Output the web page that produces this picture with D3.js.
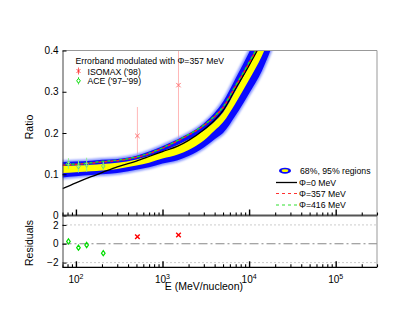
<!DOCTYPE html>
<html>
<head>
<meta charset="utf-8">
<script src="https://cdn.jsdelivr.net/npm/d3@7"></script>
<style>
  body { margin: 0; background: #fff; }
  svg { display: block; font-family: "Liberation Sans", Arial, sans-serif; }
</style>
</head>
<body>
<svg id="chart" width="415" height="311"></svg>
<script>
// model curves, sampled in E (MeV/nucleon)
var energy = [70, 100, 150, 200, 300, 500, 700, 1000, 1500, 2000, 3000, 4000, 5000, 7000, 10000, 14000, 20000];
var phi0   = [0.065, 0.079, 0.094, 0.104, 0.118, 0.132, 0.143, 0.155, 0.168, 0.182, 0.208, 0.231, 0.254, 0.308, 0.364, 0.423, 0.512];
var phi357 = [0.122, 0.124, 0.127, 0.130, 0.133, 0.141, 0.150, 0.163, 0.181, 0.195, 0.218, 0.240, 0.262, 0.314, 0.370, 0.430, 0.520];
var phi416 = [0.123, 0.125, 0.128, 0.131, 0.134, 0.142, 0.151, 0.164, 0.182, 0.196, 0.219, 0.241, 0.263, 0.315, 0.371, 0.431, 0.521];
var hi95   = [0.130, 0.131, 0.133, 0.135, 0.137, 0.145, 0.155, 0.168, 0.185, 0.198, 0.223, 0.249, 0.276, 0.333, 0.396, 0.460, 0.550];
var hi68   = [0.120, 0.121, 0.123, 0.125, 0.128, 0.136, 0.144, 0.156, 0.171, 0.184, 0.206, 0.228, 0.250, 0.303, 0.363, 0.424, 0.512];
var lo68   = [0.103, 0.105, 0.107, 0.109, 0.113, 0.121, 0.128, 0.138, 0.148, 0.159, 0.182, 0.206, 0.226, 0.273, 0.329, 0.386, 0.468];
var lo95   = [0.092, 0.095, 0.098, 0.100, 0.103, 0.111, 0.117, 0.126, 0.134, 0.144, 0.165, 0.185, 0.200, 0.243, 0.296, 0.350, 0.430];

// data
var isomaxE   = [513, 1530];
var isomaxVal = [0.193, 0.316];
var isomaxErr = [0.07, 0.13];
var isomaxRes = [0.75, 0.93];
var aceE   = [82, 107, 133, 207];
var aceVal = [0.126, 0.119, 0.123, 0.120];
var aceErr = [0.013, 0.015, 0.017, 0.010];
var aceRes = [0.25, -0.42, -0.13, -1.0];

var yTicks = [0, 0.1, 0.2, 0.3, 0.4];
var resTicks = [-2, 0, 2];
var decades = [100, 1000, 10000, 100000];
var decadeLabels = ["2", "3", "4", "5"];

(function() {
  var pL = 62.5, pR = 377, pT = 50.5, pM = 215.5, pB = 267.3;

  var svg = d3.select("#chart");
  var x = d3.scaleLog().domain([70, 3e5]).range([pL, pR]);
  var y = d3.scaleLinear().domain([0, 0.4]).range([pM, pT]);
  var yr = d3.scaleLinear().domain([-2.5, 3]).range([pB, pM]);

  var minors = [];
  [10, 100, 1000, 10000, 100000].forEach(function(d) {
    for (var k = 2; k <= 9; k++) {
      var v = d * k;
      if (v >= 70 && v <= 3e5) minors.push(v);
    }
  });

  var defs = svg.append("defs");
  defs.append("clipPath").attr("id", "clipMain")
    .append("rect").attr("x", pL).attr("y", pT).attr("width", pR - pL).attr("height", pM - pT);
  defs.append("filter").attr("id", "halo").attr("x", "-10%").attr("y", "-10%").attr("width", "120%").attr("height", "120%")
    .append("feGaussianBlur").attr("stdDeviation", 1.2);

  var main = svg.append("g").attr("clip-path", "url(#clipMain)");

  // ISOMAX error bars sit under the band
  main.selectAll(".isoErr").data(isomaxE).enter().append("line")
    .attr("x1", function(d) { return x(d); }).attr("x2", function(d) { return x(d); })
    .attr("y1", function(d, i) { return y(isomaxVal[i] + isomaxErr[i]); })
    .attr("y2", function(d, i) { return y(isomaxVal[i] - isomaxErr[i]); })
    .attr("stroke", "#ffb8b8").attr("stroke-width", 1);

  var area = function(hi, lo) {
    return d3.area()
      .x(function(d, i) { return x(energy[i]); })
      .y0(function(d, i) { return y(lo[i]); })
      .y1(function(d, i) { return y(hi[i]); })
      .curve(d3.curveMonotoneX)(energy);
  };
  main.append("path").attr("d", area(hi95, lo95))
    .attr("fill", "#8896ff").attr("stroke", "#8896ff").attr("stroke-width", 3.5)
    .attr("filter", "url(#halo)");
  main.append("path").attr("d", area(hi95, lo95)).attr("fill", "#0a0aff");
  main.append("path").attr("d", area(hi68, lo68)).attr("fill", "#ffff00");

  var line = function(vals) {
    return d3.line()
      .x(function(d, i) { return x(energy[i]); })
      .y(function(d, i) { return y(vals[i]); })
      .curve(d3.curveMonotoneX)(energy);
  };
  main.append("path").attr("d", line(phi0)).attr("fill", "none").attr("stroke", "#000").attr("stroke-width", 1.3);
  main.append("path").attr("d", line(phi357)).attr("fill", "none").attr("stroke", "#ff2020")
    .attr("stroke-width", 1.5).attr("stroke-dasharray", "3,3");
  main.append("path").attr("d", line(phi416)).attr("fill", "none").attr("stroke", "#20e020")
    .attr("stroke-width", 1.5).attr("stroke-dasharray", "3,3").attr("stroke-dashoffset", 3);

  // ACE on top
  main.selectAll(".aceErr").data(aceE).enter().append("line")
    .attr("x1", function(d) { return x(d); }).attr("x2", function(d) { return x(d); })
    .attr("y1", function(d, i) { return y(aceVal[i] + aceErr[i]); })
    .attr("y2", function(d, i) { return y(aceVal[i] - aceErr[i]); })
    .attr("stroke", "#90ee90").attr("stroke-width", 1);
  var diamond = function(cx, cy, w, h) {
    return "M" + cx + "," + (cy - h) + "L" + (cx + w) + "," + cy + "L" + cx + "," + (cy + h) + "L" + (cx - w) + "," + cy + "Z";
  };
  var cross = function(cx, cy, s) {
    return "M" + (cx - s) + "," + (cy - s) + "L" + (cx + s) + "," + (cy + s) +
           "M" + (cx - s) + "," + (cy + s) + "L" + (cx + s) + "," + (cy - s);
  };
  main.selectAll(".aceMk").data(aceE).enter().append("path")
    .attr("d", function(d, i) { return diamond(x(d), y(aceVal[i]), 1.8, 2.6); })
    .attr("fill", "none").attr("stroke", "#70e070").attr("stroke-width", 1);
  main.selectAll(".isoMk").data(isomaxE).enter().append("path")
    .attr("d", function(d, i) { return cross(x(d), y(isomaxVal[i]), 2.2); })
    .attr("stroke", "#ff7070").attr("stroke-width", 1);

  // residual panel
  svg.append("g").selectAll("line").data([2, -2]).enter().append("line")
    .attr("x1", pL).attr("x2", pR).attr("y1", function(d) { return yr(d); }).attr("y2", function(d) { return yr(d); })
    .attr("stroke", "#999").attr("stroke-width", 1).attr("stroke-dasharray", "1,3");
  svg.append("line").attr("x1", pL).attr("x2", pR).attr("y1", yr(0)).attr("y2", yr(0))
    .attr("stroke", "#888").attr("stroke-width", 1.2).attr("stroke-dasharray", "9,3,2,3");

  svg.selectAll(".aceRes").data(aceE).enter().append("path")
    .attr("d", function(d, i) { return diamond(x(d), yr(aceRes[i]), 1.8, 2.6); })
    .attr("fill", "none").attr("stroke", "#00dd00").attr("stroke-width", 1.2);
  svg.selectAll(".isoRes").data(isomaxE).enter().append("path")
    .attr("d", function(d, i) { return cross(x(d), yr(isomaxRes[i]), 2.3); })
    .attr("stroke", "#ff0000").attr("stroke-width", 1.4);

  // frames
  svg.append("path").attr("d", "M" + pL + "," + pT + "H" + pR + "V" + pB)
    .attr("fill", "none").attr("stroke", "#999").attr("stroke-width", 1);
  svg.append("line").attr("x1", pL).attr("x2", pR).attr("y1", pM).attr("y2", pM)
    .attr("stroke", "#555").attr("stroke-width", 2);

  var styleAxis = function(g) {
    g.select(".domain").attr("stroke", "#444");
    g.selectAll("text").attr("font-size", 10).attr("font-family", "Liberation Sans, Arial, sans-serif").attr("fill", "#000");
  };

  // y axes
  svg.append("g").attr("transform", "translate(" + pL + ",0)")
    .call(d3.axisLeft(y).tickValues(yTicks).tickSizeInner(-4).tickSizeOuter(0).tickPadding(4)
      .tickFormat(function(d) { return d === 0 ? "0" : d3.format(".1f")(d); }))
    .call(styleAxis);
  svg.append("g").attr("transform", "translate(" + pL + ",0)")
    .call(d3.axisLeft(yr).tickValues(resTicks).tickSizeInner(-4).tickSizeOuter(0).tickPadding(4)
      .tickFormat(d3.format("d")))
    .call(styleAxis);

  // x ticks, pointing up from both panel bottoms
  [pM, pB].forEach(function(yy) {
    var gMaj = svg.append("g").attr("transform", "translate(0," + yy + ")")
      .call(d3.axisTop(x).tickValues(decades).tickSizeInner(6).tickSizeOuter(0).tickFormat(""));
    var gMin = svg.append("g").attr("transform", "translate(0," + yy + ")")
      .call(d3.axisTop(x).tickValues(minors).tickSizeInner(3).tickSizeOuter(0).tickFormat(""));
    gMaj.select(".domain").remove();
    gMin.select(".domain").remove();
    gMaj.selectAll("line").attr("stroke-width", 1.4);
    gMin.selectAll("line").attr("stroke-width", 1.1);
  });
  svg.append("line").attr("x1", pL).attr("x2", pR).attr("y1", pB).attr("y2", pB)
    .attr("stroke", "#000").attr("stroke-width", 1.3);

  // decade labels
  var lab = svg.append("g").selectAll("text").data(decades).enter().append("text")
    .attr("x", function(d) { return x(d); }).attr("y", 283)
    .attr("text-anchor", "middle").attr("font-size", 10);
  lab.append("tspan").text("10");
  lab.append("tspan").attr("dy", -4.5).attr("font-size", 7).text(function(d, i) { return decadeLabels[i]; });

  // titles
  svg.append("text").attr("x", 243).attr("y", 290).attr("text-anchor", "end").attr("font-size", 10.5)
    .text("E (MeV/nucleon)");
  svg.append("text").attr("transform", "translate(33,127) rotate(-90)").attr("text-anchor", "middle").attr("font-size", 10.5)
    .text("Ratio");
  svg.append("text").attr("transform", "translate(33,243) rotate(-90)").attr("text-anchor", "middle").attr("font-size", 10.5)
    .text("Residuals");

  // top-left legend
  var lg = svg.append("g").attr("font-size", 8.7);
  lg.append("text").attr("x", 75.5).attr("y", 63.5).text("Errorband modulated with \u03a6=357 MeV");
  lg.append("line").attr("x1", 78.5).attr("x2", 78.5).attr("y1", 67.5).attr("y2", 74.5).attr("stroke", "#ff6060");
  lg.append("path").attr("d", cross(78.5, 71, 1.8)).attr("stroke", "#ff3030").attr("stroke-width", 1);
  lg.append("text").attr("x", 87.5).attr("y", 74.5).text("ISOMAX ('98)");
  lg.append("line").attr("x1", 78.5).attr("x2", 78.5).attr("y1", 77).attr("y2", 84.5).attr("stroke", "#60e060");
  lg.append("path").attr("d", diamond(78.5, 80.8, 1.8, 2.4)).attr("fill", "#fff").attr("stroke", "#00dd00");
  lg.append("text").attr("x", 87.5).attr("y", 84).text("ACE ('97\u2013'99)");

  // bottom-right legend
  var lr = svg.append("g").attr("font-size", 8.7);
  lr.append("ellipse").attr("cx", 285).attr("cy", 170.7).attr("rx", 6).attr("ry", 3).attr("fill", "#0a0aff");
  lr.append("ellipse").attr("cx", 285).attr("cy", 170.7).attr("rx", 3.3).attr("ry", 1.4).attr("fill", "#ffff00");
  lr.append("text").attr("x", 300).attr("y", 174).text("68%, 95% regions");
  lr.append("line").attr("x1", 276).attr("x2", 297).attr("y1", 182.5).attr("y2", 182.5).attr("stroke", "#000").attr("stroke-width", 1.3);
  lr.append("text").attr("x", 299).attr("y", 185.7).text("\u03a6=0 MeV");
  lr.append("line").attr("x1", 276).attr("x2", 297).attr("y1", 193.5).attr("y2", 193.5).attr("stroke", "#ff3030")
    .attr("stroke-width", 1.2).attr("stroke-dasharray", "3,3");
  lr.append("text").attr("x", 299).attr("y", 196.8).text("\u03a6=357 MeV");
  lr.append("line").attr("x1", 276).attr("x2", 297).attr("y1", 205).attr("y2", 205).attr("stroke", "#30e030")
    .attr("stroke-width", 1.2).attr("stroke-dasharray", "3,3");
  lr.append("text").attr("x", 299).attr("y", 208.3).text("\u03a6=416 MeV");
})();
</script>
</body>
</html>
